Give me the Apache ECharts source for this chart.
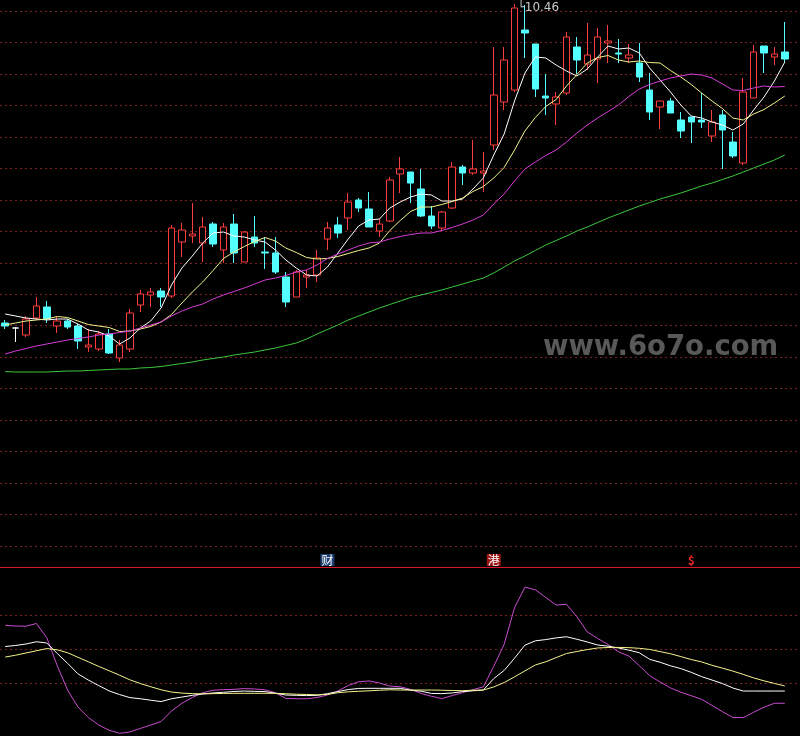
<!DOCTYPE html>
<html><head><meta charset="utf-8">
<script src="https://cdn.jsdelivr.net/npm/echarts@6/dist/echarts.min.js"></script>
<style>html,body{margin:0;padding:0;background:#000;}#c{width:800px;height:736px;}</style>
</head><body><div id="c"></div>
<script>
// ---- data ----
const opens = [7.27,7.22,7.15,7.32,7.43,7.24,7.29,7.24,7.03,7.01,
 7.16,6.92,7.01,7.45,7.55,7.59,7.54,8.08,8.14,8.07,
 8.26,8.00,8.26,7.88,8.13,7.98,7.97,7.73,7.53,7.73,
 7.75,8.11,8.25,8.32,8.50,8.41,8.19,8.29,8.76,8.78,
 8.61,8.34,8.22,8.42,8.83,8.77,8.77,9.05,9.48,9.60,
 10.20,10.06,9.54,9.46,9.57,10.03,9.86,9.91,10.07,9.97,
 9.92,9.87,9.60,9.43,9.49,9.30,9.33,9.30,9.14,9.35,
 9.08,8.87,9.52,10.04,9.93,9.98];
const closes = [7.24,7.22,7.31,7.44,7.31,7.29,7.23,7.09,7.05,7.16,
 6.97,7.05,7.37,7.56,7.58,7.53,8.22,8.20,8.16,8.23,
 8.06,8.23,7.97,8.18,8.07,7.97,7.78,7.48,7.78,7.75,
 7.92,8.22,8.17,8.48,8.42,8.23,8.26,8.70,8.81,8.67,
 8.34,8.24,8.38,8.83,8.77,8.81,8.79,9.55,9.90,10.42,
 10.17,9.61,9.52,9.53,10.13,9.90,9.95,10.13,10.09,9.96,
 9.95,9.73,9.38,9.49,9.37,9.19,9.28,9.28,9.28,9.20,
 8.94,9.58,9.98,9.97,9.96,9.91];
const lows = [7.21,7.08,7.13,7.30,7.27,7.17,7.21,7.01,6.98,6.99,
 6.96,6.88,6.98,7.38,7.43,7.43,7.52,7.93,8.07,7.88,
 8.03,7.87,7.87,7.88,8.03,7.81,7.76,7.43,7.53,7.62,
 7.68,8.00,8.12,8.20,8.38,8.23,8.13,8.28,8.57,8.47,
 8.33,8.21,8.19,8.41,8.65,8.75,8.58,9.00,9.40,9.58,
 9.92,9.53,9.35,9.25,9.55,9.76,9.80,9.67,9.87,9.87,
 9.87,9.68,9.30,9.21,9.37,9.12,9.07,9.22,9.08,8.81,
 8.92,8.85,9.52,9.77,9.85,9.88];
const highs = [7.30,7.23,7.34,7.53,7.49,7.33,7.31,7.26,7.21,7.19,
 7.21,7.10,7.41,7.60,7.62,7.62,8.25,8.27,8.47,8.33,
 8.28,8.27,8.36,8.19,8.34,8.13,8.13,7.78,7.80,7.80,
 8.00,8.28,8.33,8.57,8.52,8.58,8.31,8.73,8.93,8.78,
 8.81,8.44,8.39,8.88,8.85,9.10,8.98,10.03,10.03,10.46,
 10.45,10.06,9.76,9.58,10.18,10.13,10.27,10.22,10.25,10.11,
 10.06,10.07,9.77,9.49,9.52,9.38,9.33,9.57,9.40,9.40,
 9.18,9.72,10.05,10.04,10.03,10.28];
const ma5 = [7.36,7.34,7.32,7.31,7.30,7.31,7.31,7.26,7.20,7.18,
 7.14,7.06,7.12,7.22,7.29,7.42,7.65,7.82,7.94,8.07,
 8.17,8.18,8.14,8.13,8.10,8.08,8.00,7.90,7.82,7.75,
 7.74,7.83,7.97,8.11,8.24,8.30,8.31,8.42,8.48,8.53,
 8.56,8.55,8.49,8.49,8.51,8.61,8.72,8.95,9.16,9.49,
 9.77,9.93,9.92,9.85,9.79,9.74,9.81,9.93,10.04,10.01,
 10.02,9.97,9.82,9.70,9.58,9.45,9.34,9.32,9.28,9.25,
 9.20,9.26,9.40,9.53,9.69,9.88];
const ma10 = [7.25,7.27,7.29,7.30,7.31,7.335,7.325,7.29,7.255,7.24,
 7.225,7.185,7.19,7.21,7.235,7.28,7.355,7.47,7.58,7.68,
 7.795,7.915,7.98,8.035,8.085,8.125,8.09,8.02,7.975,7.925,
 7.91,7.915,7.935,7.965,7.995,8.02,8.07,8.195,8.295,8.385,
 8.43,8.43,8.455,8.485,8.52,8.585,8.635,8.72,8.825,9.00,
 9.19,9.325,9.435,9.505,9.64,9.755,9.87,9.925,9.945,9.90,
 9.88,9.89,9.875,9.87,9.795,9.73,9.655,9.57,9.49,9.415,
 9.32,9.30,9.36,9.405,9.47,9.54];
const ma20 = [6.96,6.99,7.015,7.04,7.06,7.08,7.10,7.115,7.13,7.15,
 7.16,7.175,7.19,7.22,7.25,7.28,7.34,7.39,7.43,7.46,
 7.51,7.55,7.585,7.62,7.66,7.70,7.72,7.745,7.78,7.80,
 7.85,7.915,7.96,8.00,8.04,8.07,8.08,8.11,8.135,8.155,
 8.17,8.17,8.195,8.225,8.26,8.30,8.35,8.46,8.56,8.69,
 8.81,8.88,8.945,9.00,9.08,9.17,9.25,9.32,9.385,9.45,
 9.535,9.61,9.655,9.69,9.72,9.74,9.76,9.75,9.72,9.66,
 9.60,9.595,9.62,9.64,9.63,9.635];
const ma60 = [6.785,6.78,6.78,6.78,6.78,6.785,6.79,6.79,6.795,6.80,
 6.805,6.81,6.81,6.82,6.825,6.835,6.85,6.865,6.88,6.90,
 6.915,6.93,6.95,6.965,6.98,7.00,7.02,7.045,7.07,7.11,
 7.16,7.205,7.25,7.30,7.34,7.38,7.42,7.455,7.49,7.525,
 7.55,7.575,7.60,7.63,7.66,7.69,7.72,7.77,7.83,7.89,
 7.94,7.995,8.05,8.095,8.14,8.19,8.23,8.275,8.32,8.36,
 8.40,8.44,8.475,8.51,8.54,8.57,8.605,8.64,8.67,8.705,
 8.74,8.78,8.82,8.86,8.90,8.95];
const kLine = [52.2,53.1,54.4,56.4,55.3,46.1,37.4,28.1,22.6,17.7,
 13.0,9.8,7.1,6.1,4.8,3.6,6.1,7.6,9.1,10.3,
 11.2,11.8,12.5,12.9,12.6,12.4,10.9,9.4,9.1,8.9,
 9.1,10.6,12.4,14.2,15.2,15.3,15.3,15.3,15.3,13.6,
 12.8,10.8,10.6,11.2,12.4,13.1,13.8,23.9,31.1,41.9,
 53.4,57.2,58.3,59.8,60.8,58.6,56.2,53.5,52.5,50.9,
 49.0,46.7,40.9,38.3,35.2,32.7,29.4,25.6,22.6,19.5,
 15.6,12.9,12.9,12.9,12.9,12.9];
const dLine = [42.9,44.5,46.5,48.4,50.4,49.3,46.7,42.7,38.7,34.6,
 30.8,26.9,22.8,19.5,16.7,14.0,12.0,11.1,10.6,10.4,
 10.6,10.8,10.9,10.9,10.9,10.9,10.9,10.5,10.1,9.9,
 9.5,9.9,11.4,12.2,12.7,13.1,13.6,14.0,13.8,13.8,
 13.8,13.8,13.6,13.4,13.2,13.6,13.8,16.5,20.4,25.4,
 30.7,35.9,38.7,42.4,46.0,47.8,49.5,50.9,51.3,51.4,
 51.2,50.6,49.6,47.7,45.8,43.3,40.7,38.6,35.6,33.1,
 30.5,27.6,24.5,21.9,19.6,17.4];
const jLine = [70.9,70.3,70.1,72.5,60.0,35.4,13.8,-1.2,-10.4,-17.1,
 -21.7,-24.4,-23.2,-20.1,-17.1,-14.0,-4.7,2.1,7.2,11.4,
 13.6,14.1,14.4,15.1,14.7,14.0,11.4,6.4,6.1,6.1,
 7.2,9.4,12.9,17.8,21.1,21.8,20.0,17.3,16.7,14.4,
 10.9,8.3,6.2,8.9,11.5,14.1,16.6,34.7,54.1,86.4,
 104.5,102.3,95.5,88.8,89.4,78.5,65.0,59.3,53.9,47.5,
 43.8,35.3,26.5,20.9,15.7,11.8,8.8,5.6,0.2,-5.3,
 -10.4,-10.6,-5.8,-1.4,2.1,2.1];
const highLabel = {index: 49, value: 10.46, text: '10.46'};
const marks = [{index: 31, text: '财'}, {index: 47, text: '港'}, {index: 66, text: '$'}];
const watermark = 'www.6o7o.com';

const cats = opens.map((_, i) => i);
const kdata = opens.map((o, i) => [o, closes[i], lows[i], highs[i]]);

const chart = echarts.init(document.getElementById('c'));
const gridLineStyle = {color: '#7c2020', width: 1, type: [2, 3]};
function line(name, data, color, xi, yi) {
  return {name, type: 'line', data, xAxisIndex: xi, yAxisIndex: yi, symbol: 'none', showSymbol: false,
    clip: false, lineStyle: {color, width: 1}, z: 3};
}
const wm = {type: 'text', left: 543, top: 334, z: 1,
  style: {text: watermark, fill: '#595959', font: 'bold 27.5px "DejaVu Sans"'}};
const sep = {type: 'rect', z: 5, shape: {x: 0, y: 567, width: 800, height: 1},
  style: {fill: '#d81828'}};
chart.setOption({
  backgroundColor: '#000',
  animation: false,
  grid: [
    {left: -1, width: 791, top: 0, height: 546},
    {left: -1, width: 791, top: 567, height: 169},
    {left: 0, right: 0, top: 11, height: 535},
    {left: 0, right: 0, top: 581, height: 136}
  ],
  xAxis: [
    {type: 'category', data: cats, gridIndex: 0, show: false},
    {type: 'category', data: cats, gridIndex: 1, show: false},
    {type: 'value', gridIndex: 2, min: 0, max: 1, show: false},
    {type: 'value', gridIndex: 3, min: 0, max: 1, show: false}
  ],
  yAxis: [
    {type: 'value', gridIndex: 0, min: 5.04, max: 10.50, show: false},
    {type: 'value', gridIndex: 1, min: -26.77, max: 122.35, show: false},
    {type: 'value', gridIndex: 2, min: 0, max: 17, interval: 1,
      axisLine: {show: false}, axisTick: {show: false}, axisLabel: {show: false},
      splitLine: {show: true, lineStyle: gridLineStyle}},
    {type: 'value', gridIndex: 3, min: -10, max: 110, interval: 30,
      axisLine: {show: false}, axisTick: {show: false}, axisLabel: {show: false},
      splitLine: {show: true, showMinLine: false, showMaxLine: false, lineStyle: gridLineStyle}}
  ],
  series: [
    {type: 'candlestick', data: kdata, xAxisIndex: 0, yAxisIndex: 0, barWidth: 7, clip: false,
      itemStyle: {color: '#000', color0: '#54ffff', borderColor: '#ff3c3c', borderColor0: '#54ffff',
        borderColorDoji: '#ffffff', borderWidth: 1},
      markPoint: {symbol: 'circle', symbolSize: 0, silent: true,
        data: [{coord: [highLabel.index, highLabel.value]}],
        label: {show: true, formatter: '\u2514' + highLabel.text, position: 'right', distance: 0, offset: [3, 4],
          color: '#c8c8c8', fontSize: 12, fontFamily: 'DejaVu Sans'}}},
    line('MA5', ma5, '#ffffff', 0, 0),
    line('MA10', ma10, '#f4f48c', 0, 0),
    line('MA20', ma20, '#d83cd8', 0, 0),
    line('MA60', ma60, '#3cc83c', 0, 0),
    line('J', jLine, '#c84cd0', 1, 1),
    line('K', kLine, '#ffffff', 1, 1),
    line('D', dLine, '#f4f48c', 1, 1)
  ],
  graphic: [wm, sep]
});

const extra = marks.map(m => {
  const x = chart.convertToPixel({xAxisIndex: 0}, m.index);
  const isDollar = m.text === '$';
  return {type: 'text', x: x, y: 560, z: 10,
    style: {text: m.text, align: 'center', verticalAlign: 'middle',
      fill: isDollar ? '#e02828' : '#ffffff',
      font: (isDollar ? 'bold ' : '') + '12px "Noto Sans CJK SC"',
      backgroundColor: m.text === '财' ? '#1d3f70' : (m.text === '港' ? '#9a1414' : 'transparent'),
      padding: [0, 1]}};
});
chart.setOption({graphic: [wm, sep].concat(extra)});
</script></body></html>
